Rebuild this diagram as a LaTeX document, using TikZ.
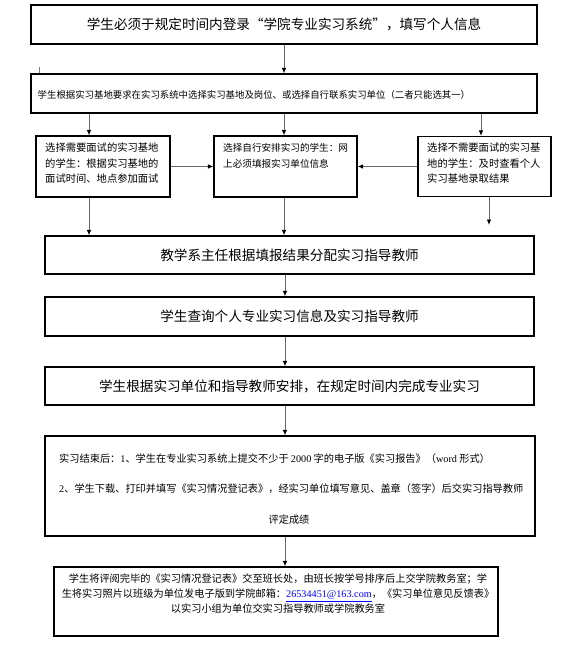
\documentclass[tikz,border=0pt]{standalone}
\usepackage{fontspec}
\setmainfont{Noto Sans CJK SC}
\newfontfamily\latserif{Liberation Serif}
\newcommand\rmlat[1]{{\latserif #1}}
\usetikzlibrary{arrows.meta}
\definecolor{linkblue}{RGB}{0,0,255}
\tikzset{
  box/.style={draw=black, line width=1.1pt, fill=white, inner sep=0pt},
  arr/.style={draw=black!60, line width=0.9pt, -{Latex[length=5.5pt,width=4.5pt,color=black]}},
  big/.style={font=\fontsize{13.6}{16}\selectfont},
  small/.style={inner sep=0pt, align=left, font=\fontsize{10.3}{15.5}\selectfont},
  tiny/.style={inner sep=0pt, font=\fontsize{9.4}{11}\selectfont},
}
\begin{document}
\begin{tikzpicture}[x=1pt,y=-1pt]
\fill[white] (0,0) rectangle (560,661);
\useasboundingbox (0,0) rectangle (560,661);

% boxes
\node[box, minimum width=506pt, minimum height=39pt, big] (b1) at (284,24.5)
  {学生必须于规定时间内登录“学院专业实习系统”，填写个人信息};
\node[box, minimum width=506pt, minimum height=39pt] (b2) at (284,93.5) {};
\node[tiny, anchor=west] (t2) at (37.5,95)
  {学生根据实习基地要求在实习系统中选择实习基地及岗位、或选择自行联系实习单位（二者只能选其一）};

\node[box, minimum width=134pt, minimum height=61pt] (L) at (103,166.5) {};
\node[small, anchor=north west] (tL) at (45,143)
  {选择需要面试的实习基地\\的学生：根据实习基地的\\面试时间、地点参加面试};

\node[box, minimum width=143pt, minimum height=61pt] (M) at (285.5,166.5) {};
\node[small, anchor=north west, font=\fontsize{9.6}{15.5}\selectfont] (tM) at (223,143.5)
  {选择自行安排实习的学生：网\\上必须填报实习单位信息};

\node[box, minimum width=133pt, minimum height=60pt] (R) at (484.5,166.5) {};
\node[small, anchor=north west] (tR) at (427,143)
  {选择不需要面试的实习基\\地的学生：及时查看个人\\实习基地录取结果};

\node[box, minimum width=489pt, minimum height=38pt, big] (b3) at (289.5,255)
  {教学系主任根据填报结果分配实习指导教师};
\node[box, minimum width=489pt, minimum height=39pt, big] (b4) at (289.5,316.5)
  {学生查询个人专业实习信息及实习指导教师};
\node[box, minimum width=489pt, minimum height=38pt, big] (b5) at (289.5,386)
  {学生根据实习单位和指导教师安排，在规定时间内完成专业实习};

\node[box, minimum width=490pt, minimum height=100pt] (b6) at (290,486) {};
\node[small, anchor=west, font=\fontsize{10.2}{12}\selectfont] (t6a) at (59,459)
  {实习结束后：\rmlat{1}、学生在专业实习系统上提交不少于 \rmlat{2000} 字的电子版《实习报告》（\rmlat{word} 形式）};
\node[small, anchor=west, font=\fontsize{10.2}{12}\selectfont] (t6b) at (59,489)
  {\rmlat{2}、学生下载、打印并填写《实习情况登记表》，经实习单位填写意见、盖章（签字）后交实习指导教师};
\node[small, font=\fontsize{10.2}{12}\selectfont] (t6c) at (289,520) {评定成绩};

\node[box, minimum width=444pt, minimum height=69pt] (b7) at (276,601.5) {};
\node[small, align=center, font=\fontsize{10.2}{15}\selectfont] (t7) at (278,594)
  {学生将评阅完毕的《实习情况登记表》交至班长处，由班长按学号排序后上交学院教务室；学\\
   生将实习照片以班级为单位发电子版到学院邮箱：\textcolor{linkblue}{\underline{\rmlat{26534451@163.com}}}，《实习单位意见反馈表》\\
   以实习小组为单位交实习指导教师或学院教务室};

% column positions
\coordinate (xL) at (89,0);
\coordinate (xM) at (284,0);
\coordinate (xR) at (481,0);
\coordinate (xC) at (285,0);
\coordinate (rEnd) at (489,225);
\coordinate (tickA) at (39,67);
\coordinate (tickB) at (39,73);

% connectors
\draw[arr] (b1.south) -- (b2.north);
\draw[draw=black!50, line width=0.9pt] (tickA) -- (tickB);
\draw[arr] (b2.south -| xL) -- (L.north -| xL);
\draw[arr] (b2.south -| xM) -- (M.north -| xM);
\draw[arr] (b2.south -| xR) -- (R.north -| xR);
\draw[arr] (L.south -| xL) -- (b3.north -| xL);
\draw[arr] (M.south -| xM) -- (b3.north -| xM);
\draw[arr] (R.south -| rEnd) -- (rEnd);
\draw[arr] (L.east) -- (M.west);
\draw[arr] (R.west) -- (M.east);
\draw[arr] (b3.south -| xC) -- (b4.north -| xC);
\draw[arr] (b4.south -| xC) -- (b5.north -| xC);
\draw[arr] (b5.south -| xC) -- (b6.north -| xC);
\draw[arr] (b6.south -| xC) -- (b7.north -| xC);
\end{tikzpicture}
\end{document}
